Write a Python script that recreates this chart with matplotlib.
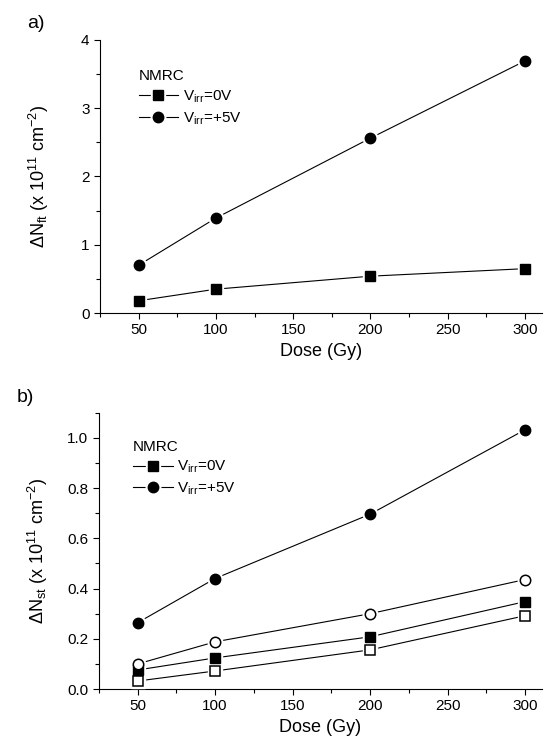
import matplotlib
matplotlib.use('Agg')
import matplotlib.pyplot as plt
from matplotlib.legend_handler import HandlerTuple
from matplotlib.ticker import MultipleLocator

plt.rcParams['font.family'] = ['Liberation Sans', 'DejaVu Sans']
plt.rcParams['mathtext.fontset'] = 'custom'
plt.rcParams['mathtext.rm'] = 'Liberation Sans'
plt.rcParams['mathtext.it'] = 'Liberation Sans:italic'

# Data
dose = [50, 100, 200, 300]

# panel a) delta N_ft
nft_0v = [0.18, 0.35, 0.54, 0.65]
nft_5v = [0.70, 1.39, 2.56, 3.69]

# panel b) delta N_st
nst_0v = [0.076, 0.124, 0.208, 0.348]
nst_5v = [0.264, 0.44, 0.696, 1.032]
nst_0v_open = [0.032, 0.072, 0.156, 0.292]
nst_5v_open = [0.10, 0.188, 0.30, 0.436]

labels = ['V$_{\\rm irr}$=0V', 'V$_{\\rm irr}$=+5V']


def series(ax, x, y, marker, filled=True, ms=7):
    # line with a white halo behind the marker, like Origin draws it
    line, = ax.plot(x, y, '-', color='k', lw=0.8, zorder=2)
    halo, = ax.plot(x, y, ls='none', marker=marker, ms=ms + 3, color='white',
                    zorder=3)
    if filled:
        mk, = ax.plot(x, y, ls='none', marker=marker, ms=ms, color='k', zorder=4)
    else:
        mk, = ax.plot(x, y, ls='none', marker=marker, ms=ms, mfc='white',
                      mec='k', mew=1.1, zorder=4)
    return (line, halo, mk)


def style(ax):
    ax.spines['top'].set_visible(False)
    ax.spines['right'].set_visible(False)
    ax.set_xlim(25, 311)
    ax.xaxis.set_major_locator(MultipleLocator(50))
    ax.xaxis.set_minor_locator(MultipleLocator(25))
    ax.tick_params(which='both', direction='out', labelsize=11, width=0.8)
    ax.tick_params(which='major', length=4)
    ax.tick_params(which='minor', length=3)
    ax.set_xlabel('Dose (Gy)', fontsize=13, labelpad=4)


handler = {tuple: HandlerTuple(ndivide=1, pad=0)}

fig = plt.figure(figsize=(5.52, 7.49), dpi=100)

ax1 = fig.add_axes([0.181, 0.582, 0.801, 0.365])
h0 = series(ax1, dose, nft_0v, 's', ms=6.5)
h5 = series(ax1, dose, nft_5v, 'o', ms=7.5)
style(ax1)
ax1.set_ylim(0, 4)
ax1.yaxis.set_major_locator(MultipleLocator(1))
ax1.yaxis.set_minor_locator(MultipleLocator(0.5))
ax1.set_ylabel('$\\Delta$N$_{\\rm ft}$ (x 10$^{11}$ cm$^{-2}$)', fontsize=13)
ax1.yaxis.set_label_coords(-0.11, 0.5)
ax1.legend([h0, h5], labels, title='NMRC', loc='upper left',
           bbox_to_anchor=(0.07, 0.92), frameon=False, fontsize=11,
           title_fontsize=11, alignment='left', handlelength=2.6,
           handletextpad=0.3, labelspacing=0.35, borderpad=0,
           handler_map=handler)
fig.text(0.05, 0.98, 'a)', fontsize=14, va='top')

ax2 = fig.add_axes([0.179, 0.080, 0.803, 0.369])
g0 = series(ax2, dose, nst_0v, 's', ms=6.5)
g5 = series(ax2, dose, nst_5v, 'o', ms=7.5)
series(ax2, dose, nst_0v_open, 's', filled=False, ms=6.5)
series(ax2, dose, nst_5v_open, 'o', filled=False, ms=7.5)
style(ax2)
ax2.set_ylim(0, 1.1)
ax2.yaxis.set_major_locator(MultipleLocator(0.2))
ax2.yaxis.set_minor_locator(MultipleLocator(0.1))
ax2.yaxis.set_major_formatter('{x:.1f}')
ax2.set_ylabel('$\\Delta$N$_{\\rm st}$ (x 10$^{11}$ cm$^{-2}$)', fontsize=13)
ax2.yaxis.set_label_coords(-0.11, 0.5)
ax2.legend([g0, g5], labels, title='NMRC', loc='upper left',
           bbox_to_anchor=(0.06, 0.93), frameon=False, fontsize=11,
           title_fontsize=11, alignment='left', handlelength=2.6,
           handletextpad=0.3, labelspacing=0.35, borderpad=0,
           handler_map=handler)
fig.text(0.03, 0.48, 'b)', fontsize=14, va='top')

fig.savefig('out.png', dpi=100)
